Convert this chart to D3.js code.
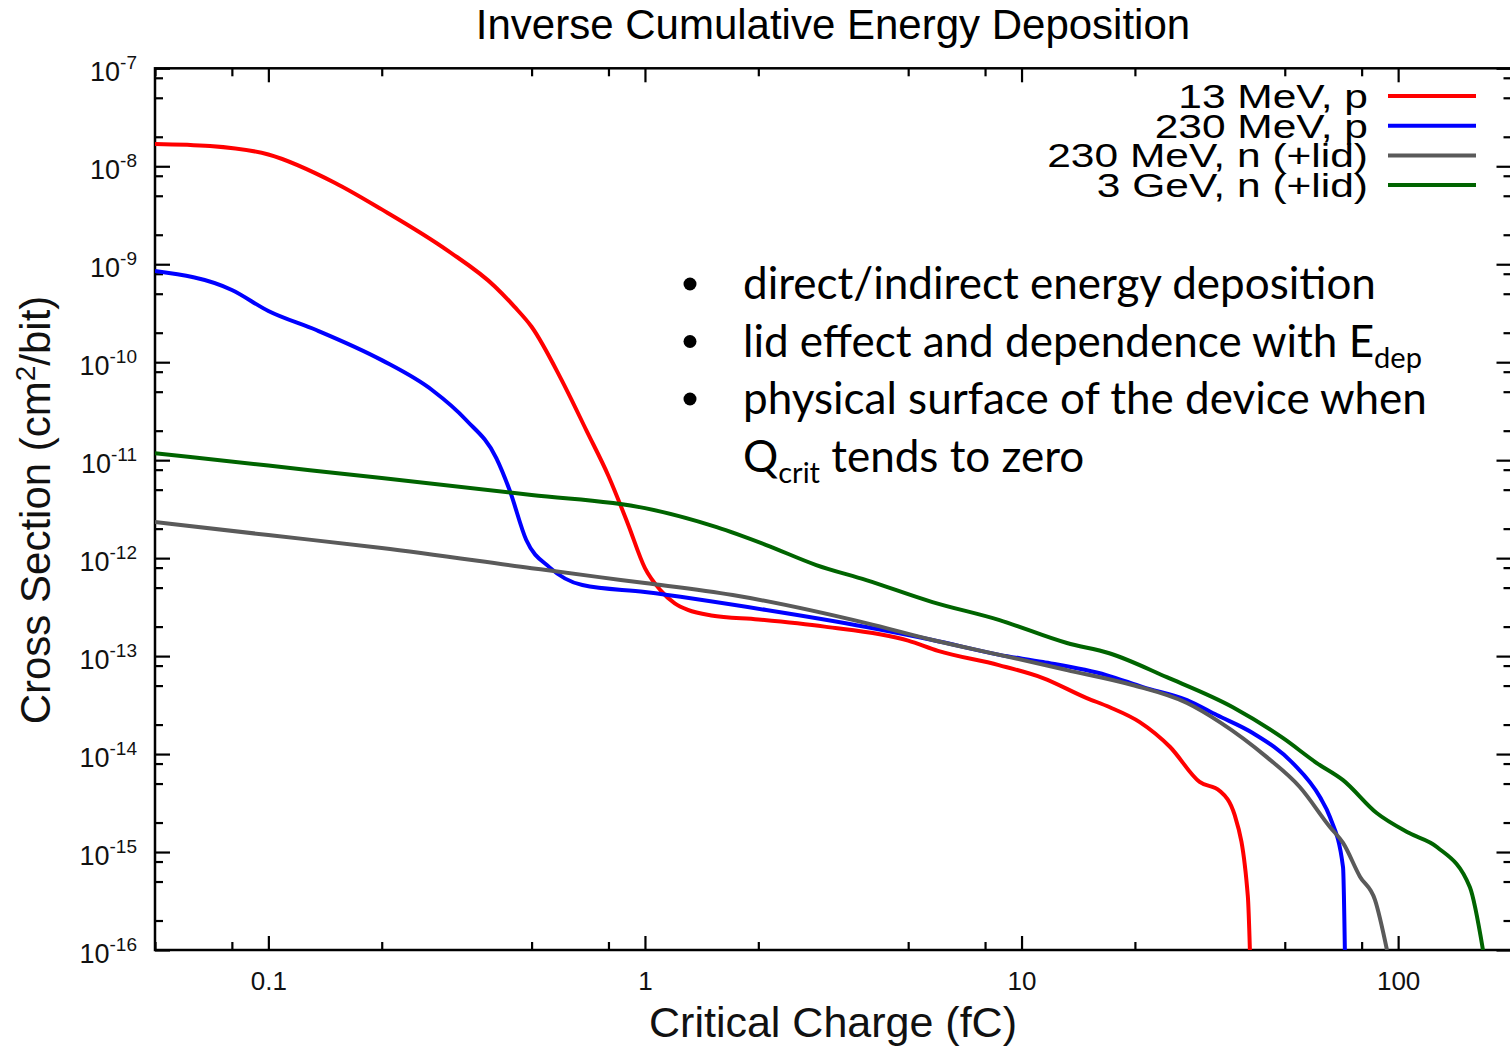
<!DOCTYPE html>
<html>
<head>
<meta charset="utf-8">
<script src="https://cdn.jsdelivr.net/npm/d3@7"></script>
<style>
  html, body { margin: 0; padding: 0; background: #fff; }
  svg { display: block; }
</style>
</head>
<body>
<div id="chart"></div>
<script>
// critical charge (fC) / cross section (cm2/bit)
const xRed   = [0.05, 0.07, 0.1, 0.15, 0.2, 0.3, 0.4, 0.45, 0.5, 0.6, 0.7, 0.8, 0.9, 1.0, 1.1, 1.2, 1.3, 1.5, 2, 3, 5, 6, 8.7, 11.4, 14.9, 17.1, 20.6, 24.8, 29.7, 33.6, 36.8, 39.9, 40.4];
const yRed   = [1.69e-8, 1.61e-8, 1.32e-8, 6.8e-9, 3.63e-9, 1.37e-9, 5.9e-10, 3.69e-10, 2.3e-10, 6.64e-11, 1.99e-11, 6.9e-12, 2.26e-12, 7.9e-13, 4.69e-13, 3.45e-13, 2.96e-13, 2.6e-13, 2.37e-13, 2.0e-13, 1.44e-13, 1.13e-13, 8.1e-14, 5.97e-14, 3.73e-14, 3.02e-14, 2.12e-14, 1.18e-14, 5.19e-15, 4.2e-15, 2.39e-15, 3.5e-16, 1e-16];

const xBlue  = [0.05, 0.08, 0.1, 0.134, 0.2, 0.272, 0.335, 0.403, 0.437, 0.484, 0.557, 0.682, 1.0, 2.1, 3.87, 5.8, 8.74, 11.4, 16.8, 21.0, 27.5, 33.0, 41.1, 52.5, 62.0, 65.9, 71.4, 72.2];
const yBlue  = [8.53e-10, 5.46e-10, 3.33e-10, 2.13e-10, 1.05e-10, 5.2e-11, 2.57e-11, 1.05e-11, 4.96e-12, 1.53e-12, 8.1e-13, 5.31e-13, 4.5e-13, 2.95e-13, 1.98e-13, 1.46e-13, 1.03e-13, 8.7e-14, 6.4e-14, 4.83e-14, 3.56e-14, 2.5e-14, 1.64e-14, 8.1e-15, 3.64e-15, 2.28e-15, 7.0e-16, 1e-16];

const xGray  = [0.05, 0.1, 0.2, 0.5, 0.756, 1.0, 1.71, 3.87, 5.8, 8.74, 13.2, 19.7, 27.5, 33.6, 44.8, 54.8, 65.9, 71.4, 79.2, 86.8, 93.4];
const yGray  = [2.34e-12, 1.72e-12, 1.27e-12, 7.9e-13, 6.4e-13, 5.57e-13, 4.2e-13, 2.17e-13, 1.46e-13, 1.03e-13, 7.2e-14, 5.07e-14, 3.32e-14, 2.12e-14, 9.3e-15, 4.61e-15, 1.8e-15, 1.24e-15, 5.6e-16, 3.24e-16, 1e-16];

const xGreen = [0.05, 0.1, 0.2, 0.5, 1.0, 1.55, 2.1, 2.85, 3.87, 5.8, 8.74, 13.2, 17.1, 24.3, 36.4, 49.4, 60.8, 71.4, 87.7, 107, 127, 155, 168];
const yGreen = [1.18e-11, 8.8e-12, 6.57e-12, 4.42e-12, 3.24e-12, 2.07e-12, 1.36e-12, 8.5e-13, 5.97e-13, 3.56e-13, 2.33e-13, 1.36e-13, 1.07e-13, 6.1e-14, 3.01e-14, 1.46e-14, 8.1e-15, 5.42e-15, 2.5e-15, 1.56e-15, 1.12e-15, 4.39e-16, 1e-16];

const seriesNames = ["13 MeV, p", "230 MeV, p", "230 MeV, n (+lid)", "3 GeV, n (+lid)"];
const seriesX = [xRed, xBlue, xGray, xGreen];
const seriesY = [yRed, yBlue, yGray, yGreen];
const clrs = ["#ff0000", "#0000ff", "#5a5a5a", "#006400"];

const xMajor = [0.1, 1, 10, 100];
const xMajorLabels = ["0.1", "1", "10", "100"];
const yExponents = [-7, -8, -9, -10, -11, -12, -13, -14, -15, -16];
const minorMults = [2, 5, 8];

const bullets = [
  [["direct/indirect energy deposition", ""]],
  [["lid effect and dependence with E", ""], ["dep", "sub"]],
  [["physical surface of the device when", ""]],
  [["Q", ""], ["crit", "sub"], [" tends to zero", ""]]
];

let width = 1510, height = 1046;
let mLeft = 155, mRight = 1511.5, mTop = 68.3, mBottom = 950;

let x = d3.scaleLog().domain([0.05, 200]).range([mLeft, mRight]);
let y = d3.scaleLog().domain([1e-16, 1e-7]).range([mBottom, mTop]);

let svg = d3.select("#chart").append("svg")
    .attr("width", width)
    .attr("height", height)
    .style("font-family", "'Liberation Sans', Arial, sans-serif");

svg.append("rect").attr("width", width).attr("height", height).attr("fill", "#fff");

// minor tick values
let xMinor = [], yMinor = [];
[0.01, 0.1, 1, 10, 100].forEach((d) => minorMults.forEach((m) => {
  let v = d * m;
  if (v >= 0.05 && v <= 200) xMinor.push(v);
}));
yExponents.slice(1).forEach((e) => minorMults.forEach((m) => yMinor.push(m * Math.pow(10, e))));

let yMajor = yExponents.map((e) => Math.pow(10, e));

function styleAxis(g) {
  g.select(".domain").remove();
  g.selectAll("line").attr("stroke", "#000").attr("stroke-width", 2.2);
}

// bottom
svg.append("g").attr("transform", `translate(0, ${ mBottom })`)
    .call(d3.axisBottom(x).tickValues(xMinor).tickSize(-8).tickFormat(""))
    .call(styleAxis);
let xb = svg.append("g").attr("transform", `translate(0, ${ mBottom })`)
    .call(d3.axisBottom(x).tickValues(xMajor).tickSize(-14).tickFormat((d, i) => xMajorLabels[i]))
    .call(styleAxis);
xb.selectAll("text")
    .attr("y", 40).attr("dy", null)
    .attr("font-size", 26)
    .attr("font-family", "'Liberation Sans', Arial, sans-serif")
    .attr("fill", "#111");

// top
svg.append("g").attr("transform", `translate(0, ${ mTop })`)
    .call(d3.axisTop(x).tickValues(xMinor).tickSize(-8).tickFormat(""))
    .call(styleAxis);
svg.append("g").attr("transform", `translate(0, ${ mTop })`)
    .call(d3.axisTop(x).tickValues(xMajor).tickSize(-14).tickFormat(""))
    .call(styleAxis);

// left
svg.append("g").attr("transform", `translate(${ mLeft }, 0)`)
    .call(d3.axisLeft(y).tickValues(yMinor).tickSize(-8).tickFormat(""))
    .call(styleAxis);
let yl = svg.append("g").attr("transform", `translate(${ mLeft }, 0)`)
    .call(d3.axisLeft(y).tickValues(yMajor).tickSize(-15).tickFormat(""))
    .call(styleAxis);
yl.selectAll(".tick text").remove();
yl.selectAll(".tick").each(function(d, i) {
  let t = d3.select(this).append("text")
      .attr("x", -18)
      .attr("y", 12)
      .attr("text-anchor", "end")
      .attr("fill", "#111")
      .attr("font-size", 27);
  t.append("tspan").text("10");
  t.append("tspan").attr("dy", -12).attr("font-size", 19).text(yExponents[i]);
});

// right
svg.append("g").attr("transform", `translate(${ mRight }, 0)`)
    .call(d3.axisRight(y).tickValues(yMinor).tickSize(-8).tickFormat(""))
    .call(styleAxis);
svg.append("g").attr("transform", `translate(${ mRight }, 0)`)
    .call(d3.axisRight(y).tickValues(yMajor).tickSize(-15).tickFormat(""))
    .call(styleAxis);

// frame
svg.append("rect")
    .attr("x", mLeft).attr("y", mTop)
    .attr("width", mRight - mLeft).attr("height", mBottom - mTop)
    .attr("fill", "none").attr("stroke", "#000").attr("stroke-width", 2.5);

// curves
svg.append("clipPath").attr("id", "plot-clip")
  .append("rect").attr("x", mLeft).attr("y", mTop)
    .attr("width", mRight - mLeft).attr("height", mBottom - mTop);

let line = d3.line()
    .x((d) => x(d[0]))
    .y((d) => y(d[1]))
    .curve(d3.curveMonotoneX);

let curves = svg.append("g").attr("clip-path", "url(#plot-clip)");
seriesX.forEach((xs, i) => {
  curves.append("path")
      .datum(xs.map((v, j) => [v, seriesY[i][j]]))
      .attr("fill", "none")
      .attr("stroke", clrs[i])
      .attr("stroke-width", 4)
      .attr("stroke-linejoin", "round")
      .attr("d", line);
});

// legend
let legend = svg.append("g");
seriesNames.forEach((name, i) => {
  let ly = 96 + i * 29.7;
  legend.append("line")
      .attr("x1", 1388).attr("x2", 1476)
      .attr("y1", ly).attr("y2", ly)
      .attr("stroke", clrs[i]).attr("stroke-width", 4);
  legend.append("text")
      .attr("transform", `translate(1368, ${ ly + 12 }) scale(1.25, 1)`)
      .attr("text-anchor", "end")
      .attr("font-size", 34)
      .attr("fill", "#000")
      .text(name);
});

// title and axis labels
svg.append("text")
    .attr("x", 833).attr("y", 39)
    .attr("text-anchor", "middle")
    .attr("font-size", 42)
    .attr("fill", "#000")
    .text("Inverse Cumulative Energy Deposition");

svg.append("text")
    .attr("x", 833).attr("y", 1037)
    .attr("text-anchor", "middle")
    .attr("font-size", 43)
    .attr("fill", "#111")
    .text("Critical Charge (fC)");

let ylab = svg.append("text")
    .attr("transform", "translate(50, 510) rotate(-90)")
    .attr("text-anchor", "middle")
    .attr("font-size", 42)
    .attr("fill", "#111");
ylab.append("tspan").text("Cross Section (cm");
ylab.append("tspan").attr("dy", -15).attr("font-size", 28).text("2");
ylab.append("tspan").attr("dy", 15).text("/bit)");

// bullet notes
let notes = svg.append("g")
    .style("font-family", "Lato, 'Open Sans', sans-serif");
bullets.forEach((parts, i) => {
  let by = 299 + i * 57.5;
  if (i < 3) {
    notes.append("circle")
        .attr("cx", 690).attr("cy", by - 15)
        .attr("r", 6.5).attr("fill", "#000");
  }
  let t = notes.append("text")
      .attr("x", 743).attr("y", by)
      .attr("font-size", 44)
      .attr("fill", "#000");
  parts.forEach((p) => {
    if (p[1] === "sub") {
      t.append("tspan").attr("dy", 11).attr("font-size", 29).text(p[0]);
    } else {
      let ts = t.append("tspan").text(p[0]);
      if (t.selectAll("tspan").size() > 1) ts.attr("dy", -11);
    }
  });
});
</script>
</body>
</html>
